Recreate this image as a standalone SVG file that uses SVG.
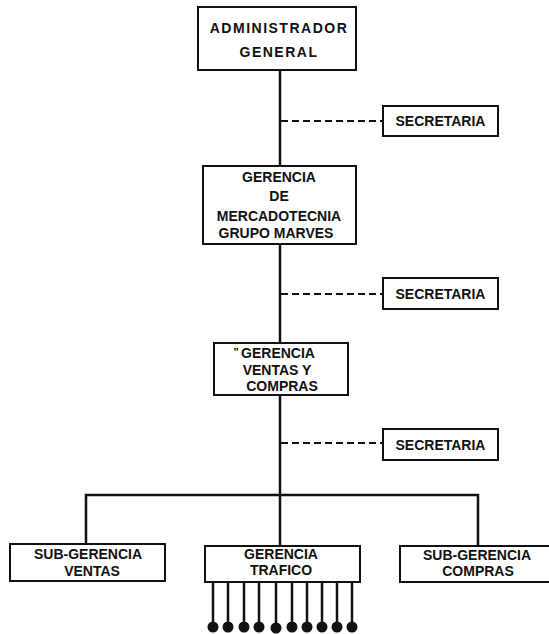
<svg xmlns="http://www.w3.org/2000/svg" width="549" height="634" viewBox="0 0 549 634">
<style>
  .box { fill: #fff; stroke: #111; stroke-width: 2; }
  .t { font-family: "Liberation Sans", Arial, sans-serif; font-size: 14px; font-weight: bold; fill: #111; text-anchor: middle; }
  .sp { letter-spacing: 1.5px; }
  .ln { stroke: #111; stroke-width: 2.5; fill: none; }
  .dash { stroke: #111; stroke-width: 2; stroke-dasharray: 7 4; fill: none; }
  .dot { fill: #111; }
</style>
<rect width="549" height="634" fill="#fff"/>
<g id="connectors">
  <line class="ln" x1="280" y1="70" x2="280" y2="166"/>
  <line class="ln" x1="280" y1="244" x2="280" y2="343"/>
  <line class="ln" x1="280" y1="395" x2="280" y2="546"/>
  <polyline class="ln" points="86,544 86,495 478,495 478,546"/>
  <line class="dash" x1="281" y1="121" x2="383" y2="121"/>
  <line class="dash" x1="281" y1="294" x2="383" y2="294"/>
  <line class="dash" x1="281" y1="443" x2="383" y2="443"/>
  <g id="trafico-leads">
    <line class="ln" stroke-width="1.8" x1="213" y1="582" x2="213" y2="627"/>
    <line class="ln" stroke-width="1.8" x1="228" y1="582" x2="228" y2="627"/>
    <line class="ln" stroke-width="1.8" x1="244" y1="582" x2="244" y2="627"/>
    <line class="ln" stroke-width="1.8" x1="259" y1="582" x2="259" y2="627"/>
    <line class="ln" stroke-width="1.8" x1="276" y1="582" x2="276" y2="627"/>
    <line class="ln" stroke-width="1.8" x1="292" y1="582" x2="292" y2="627"/>
    <line class="ln" stroke-width="1.8" x1="307" y1="582" x2="307" y2="627"/>
    <line class="ln" stroke-width="1.8" x1="322" y1="582" x2="322" y2="627"/>
    <line class="ln" stroke-width="1.8" x1="337" y1="582" x2="337" y2="627"/>
    <line class="ln" stroke-width="1.8" x1="352" y1="582" x2="352" y2="627"/>
    <circle class="dot" cx="213" cy="627" r="5.5"/>
    <circle class="dot" cx="228" cy="627" r="5.5"/>
    <circle class="dot" cx="244" cy="627" r="5.5"/>
    <circle class="dot" cx="259" cy="627" r="5.5"/>
    <circle class="dot" cx="276" cy="628" r="5.5"/>
    <circle class="dot" cx="292" cy="627" r="5.5"/>
    <circle class="dot" cx="307" cy="627" r="5.5"/>
    <circle class="dot" cx="322" cy="627" r="5.5"/>
    <circle class="dot" cx="337" cy="627" r="5.5"/>
    <circle class="dot" cx="352" cy="627" r="5.5"/>
  </g>
</g>
<g id="administrador">
  <rect class="box" x="198" y="7" width="158" height="63"/>
  <text class="t sp" x="279" y="33">ADMINISTRADOR</text>
  <text class="t sp" x="279" y="57">GENERAL</text>
</g>
<g id="secretaria1">
  <rect class="box" x="383" y="106" width="115" height="30"/>
  <text class="t" x="440.5" y="126">SECRETARIA</text>
</g>
<g id="gerencia-mercadotecnia">
  <rect class="box" x="203" y="166" width="153" height="78"/>
  <text class="t" x="279" y="182">GERENCIA</text>
  <text class="t" x="279" y="201">DE</text>
  <text class="t" x="279" y="221">MERCADOTECNIA</text>
  <text class="t" x="276" y="238">GRUPO MARVES</text>
</g>
<g id="secretaria2">
  <rect class="box" x="383" y="278" width="115" height="31"/>
  <text class="t" x="440.5" y="299">SECRETARIA</text>
</g>
<g id="gerencia-ventas-compras">
  <rect class="box" x="214" y="343" width="134" height="52"/>
  <text class="t" x="236" y="356" style="font-size:11px">"</text>
  <text class="t" x="278" y="358">GERENCIA</text>
  <text class="t" x="277" y="375">VENTAS Y</text>
  <text class="t" x="282" y="391">COMPRAS</text>
</g>
<g id="secretaria3">
  <rect class="box" x="383" y="429" width="115" height="31"/>
  <text class="t" x="440.5" y="450">SECRETARIA</text>
</g>
<g id="sub-gerencia-ventas">
  <rect class="box" x="10" y="544" width="155" height="37"/>
  <text class="t" x="88" y="559">SUB-GERENCIA</text>
  <text class="t" x="92" y="576">VENTAS</text>
</g>
<g id="gerencia-trafico">
  <rect class="box" x="205" y="546" width="155" height="36"/>
  <text class="t" x="281" y="559">GERENCIA</text>
  <text class="t" x="281" y="575">TRAFICO</text>
</g>
<g id="sub-gerencia-compras">
  <rect class="box" x="400" y="546" width="152" height="36"/>
  <text class="t" x="477" y="560">SUB-GERENCIA</text>
  <text class="t" x="478" y="576">COMPRAS</text>
</g>
</svg>
